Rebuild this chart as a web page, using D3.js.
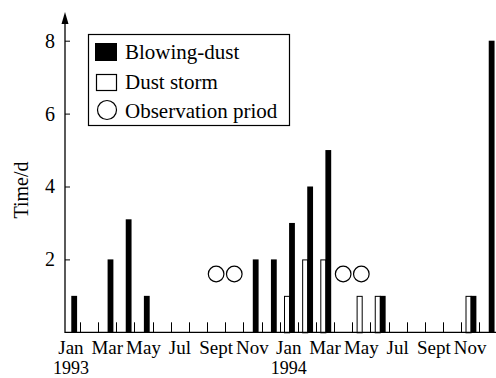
<!DOCTYPE html>
<html>
<head>
<meta charset="utf-8">
<script src="https://cdn.jsdelivr.net/npm/d3@7"></script>
<style>
  body { margin: 0; background: #fff; }
  text { font-family: "Liberation Serif", "Times New Roman", serif; fill: #000; }
</style>
</head>
<body>
<figure id="bar" style="margin:0"></figure>
<script>
// months Jan 1993 .. Dec 1994
const months = [
  "1993-01", "1993-02", "1993-03", "1993-04", "1993-05", "1993-06",
  "1993-07", "1993-08", "1993-09", "1993-10", "1993-11", "1993-12",
  "1994-01", "1994-02", "1994-03", "1994-04", "1994-05", "1994-06",
  "1994-07", "1994-08", "1994-09", "1994-10", "1994-11", "1994-12"
];
const blowingDust = [1, 0, 2, 3.1, 1, 0, 0, 0, 0, 0, 2, 2, 3, 4, 5, 0, 0, 1, 0, 0, 0, 0, 1, 8];
const dustStorm = [0, 0, 0, 0, 0, 0, 0, 0, 0, 0, 0, 0, 1, 2, 2, 0, 1, 1, 0, 0, 0, 0, 1, 0];
const observationMonths = ["1993-09", "1993-10", "1994-04", "1994-05"];
const observationLevel = 1.6;

const labelMonths = ["1993-01", "1993-03", "1993-05", "1993-07", "1993-09", "1993-11",
  "1994-01", "1994-03", "1994-05", "1994-07", "1994-09", "1994-11"];
const monthLabels = ["Jan", "Mar", "May", "Jul", "Sept", "Nov", "Jan", "Mar", "May", "Jul", "Sept", "Nov"];
const yearMonths = ["1993-01", "1994-01"];
const yearLabels = ["1993", "1994"];
const yTicks = [2, 4, 6, 8];

const legendItems = ["Blowing-dust", "Dust storm", "Observation priod"];

const width = 496, height = 378;

const svg = d3.select("figure#bar")
  .append("svg")
  .attr("width", width)
  .attr("height", height);

const x = d3.scaleBand()
  .domain(months)
  .range([61.85, 497.45])
  .padding(0);

const y = d3.scaleLinear()
  .domain([0, 8])
  .range([332.3, 40.7]);

const bw = x.bandwidth();
const axisX = 65;

// dust storm bars (white, outlined)
svg.selectAll(".storm")
  .data(months.map((m, i) => ({ m, v: dustStorm[i] })).filter(d => d.v > 0))
  .enter()
  .append("rect")
  .attr("x", d => x(d.m) + 0.24 * bw + 0.5)
  .attr("y", d => y(d.v) + 0.5)
  .attr("width", 0.28 * bw)
  .attr("height", d => y(0) - y(d.v))
  .attr("fill", "#fff")
  .attr("stroke", "#000")
  .attr("stroke-width", 1);

// blowing dust bars (black)
svg.selectAll(".blow")
  .data(months.map((m, i) => ({ m, v: blowingDust[i] })).filter(d => d.v > 0))
  .enter()
  .append("rect")
  .attr("x", d => x(d.m) + 0.52 * bw)
  .attr("y", d => y(d.v))
  .attr("width", 0.32 * bw)
  .attr("height", d => y(0) - y(d.v))
  .attr("fill", "#000");

// observation period circles
svg.selectAll(".obs")
  .data(observationMonths)
  .enter()
  .append("circle")
  .attr("cx", d => x(d) + bw / 2)
  .attr("cy", y(observationLevel))
  .attr("r", 7.8)
  .attr("fill", "none")
  .attr("stroke", "#000")
  .attr("stroke-width", 1.2);

// x baseline and month ticks (at month ends)
svg.append("line")
  .attr("x1", axisX).attr("x2", width)
  .attr("y1", y(0)).attr("y2", y(0))
  .attr("stroke", "#000").attr("stroke-width", 1.3);

svg.selectAll(".mtick")
  .data(months.slice(0, -1))
  .enter()
  .append("line")
  .attr("x1", d => Math.round(x(d) + bw) + 0.5)
  .attr("x2", d => Math.round(x(d) + bw) + 0.5)
  .attr("y1", y(0))
  .attr("y2", y(0) - 10)
  .attr("stroke", "#000")
  .attr("stroke-width", 1);

// x labels
const xAxis = svg.append("g")
  .attr("transform", "translate(0," + y(0) + ")")
  .call(d3.axisBottom(x)
    .tickValues(labelMonths)
    .tickFormat((d, i) => monthLabels[i])
    .tickSize(0)
    .tickPadding(8));
xAxis.select(".domain").remove();
xAxis.selectAll("text")
  .attr("font-family", "Liberation Serif, serif")
  .attr("font-size", 19)
  .attr("fill", "#000");

svg.selectAll(".year")
  .data(yearMonths)
  .enter()
  .append("text")
  .attr("x", d => x(d) + bw / 2)
  .attr("y", 373.5)
  .attr("text-anchor", "middle")
  .attr("font-size", 18)
  .text((d, i) => yearLabels[i]);

// y axis with arrow
svg.append("line")
  .attr("x1", axisX).attr("x2", axisX)
  .attr("y1", y(0) + 0.6).attr("y2", 20)
  .attr("stroke", "#000").attr("stroke-width", 1.3);
svg.append("path")
  .attr("d", d3.line()([[axisX, 12], [axisX - 3.5, 24], [axisX + 3.5, 24]]) + "Z")
  .attr("fill", "#000");

const yAxis = svg.append("g")
  .attr("transform", "translate(" + axisX + ",0)")
  .call(d3.axisLeft(y)
    .tickValues(yTicks)
    .tickFormat(d3.format("d"))
    .tickSizeInner(-5)
    .tickSizeOuter(0)
    .tickPadding(10));
yAxis.select(".domain").remove();
yAxis.selectAll("line").attr("stroke", "#000");
yAxis.selectAll("text")
  .attr("font-family", "Liberation Serif, serif")
  .attr("font-size", 20)
  .attr("fill", "#000");

svg.append("text")
  .attr("transform", "translate(28,190) rotate(-90)")
  .attr("text-anchor", "middle")
  .attr("font-size", 20)
  .text("Time/d");

// legend
const legend = svg.append("g");
legend.append("rect")
  .attr("x", 88.5).attr("y", 34.5)
  .attr("width", 201).attr("height", 91)
  .attr("fill", "#fff")
  .attr("stroke", "#000")
  .attr("stroke-width", 1.2);
legend.append("rect")
  .attr("x", 95).attr("y", 43)
  .attr("width", 22).attr("height", 18)
  .attr("fill", "#000");
legend.append("rect")
  .attr("x", 96.5).attr("y", 74.5)
  .attr("width", 20).attr("height", 16)
  .attr("fill", "#fff")
  .attr("stroke", "#000")
  .attr("stroke-width", 1.2);
legend.append("circle")
  .attr("cx", 107).attr("cy", 110)
  .attr("r", 9.5)
  .attr("fill", "none")
  .attr("stroke", "#000")
  .attr("stroke-width", 1.2);
legend.selectAll(".ltext")
  .data(legendItems)
  .enter()
  .append("text")
  .attr("x", 125)
  .attr("y", (d, i) => 59 + i * 29.5)
  .attr("font-size", 21)
  .text(d => d);
</script>
</body>
</html>
